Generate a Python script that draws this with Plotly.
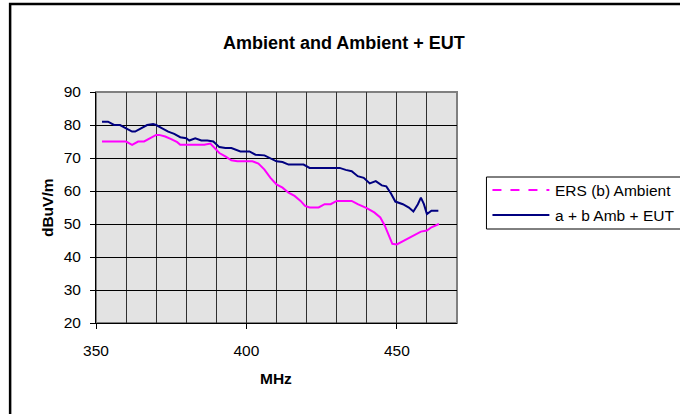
import plotly.graph_objects as go

# ---------------- data ----------------
title_text = "Ambient and Ambient + EUT"
x_title = "MHz"
y_title = "dBuV/m"
series_names = ["ERS (b) Ambient", "a + b Amb + EUT"]

amb_mhz = [352, 354, 356, 358, 360, 362, 364, 366, 368, 370, 371, 373, 375, 377, 378,
           380, 382, 384, 386, 388, 389.5, 391, 393, 395, 397, 400, 402, 404, 406, 408,
           410, 412, 414, 416, 418, 419.5, 421, 424, 426, 428, 430, 432, 435, 437, 440,
           442.5, 444.5, 446, 447.5, 448.5, 450, 451.5, 454, 456, 458, 460, 461.5, 464]
amb_db = [75, 75, 75, 75, 75, 74, 75, 75, 76, 77, 77, 76.5, 75.7, 74.8, 74,
          74, 74, 74, 74, 74.4, 73, 71.5, 70.5, 69.3, 69, 69, 69, 68.3, 66.5, 64,
          62, 61, 59.5, 58.5, 57, 55.5, 55, 55, 56, 56, 57, 57, 57, 56, 54.8,
          53.5, 52, 49.5, 46, 44, 43.8, 44.5, 45.6, 46.7, 47.7, 48, 49, 50]

eut_mhz = [352, 354, 356, 358, 360, 362, 363, 365, 367, 369, 370, 372, 374, 376, 378,
           380, 381, 383, 385, 387, 389, 391, 393, 395, 398, 401, 403, 406, 408, 410,
           412, 414, 416, 419, 421, 423, 426, 429, 431, 433, 435, 437, 439, 441, 443,
           445, 446.5, 448, 449.5, 452, 454, 455.5, 457, 458, 459, 460, 461.5, 463.8]
eut_db = [81, 81, 80, 80, 79, 78, 78, 79, 80, 80.3, 80, 79, 78, 77.3, 76.3,
          76, 75.3, 76, 75.3, 75.3, 75, 73.3, 73, 73, 72, 72, 71, 70.8, 70, 69,
          68.8, 68, 68, 68, 67, 67, 67, 67, 67, 66.4, 66, 64.5, 64, 62.3, 63,
          61.7, 61.4, 59.3, 56.8, 56, 55, 53.8, 56, 58, 56, 53, 54, 54]

x_range = [350, 470]
y_range = [20, 90]

# ---------------- layout geometry (screen pixels; page margin removed) ----------------
W, H = 680, 414
L, R, T, B = 96, 457.5, 92, 323


def px_x(p):
    return (p - L) / (R - L)


def px_y(p):
    return (B - p) / (B - T)


FONT = "Liberation Sans, Arial, sans-serif"
FS = 15.5
PINK = "#FF00FF"
NAVY = "#000080"

fig = go.Figure()
fig.add_trace(go.Scatter(x=amb_mhz, y=amb_db, mode="lines", name=series_names[0],
                         line=dict(color=PINK, width=2), showlegend=False))
fig.add_trace(go.Scatter(x=eut_mhz, y=eut_db, mode="lines", name=series_names[1],
                         line=dict(color=NAVY, width=2), showlegend=False))

shapes = []
# outer chart border (cropped at right / bottom in the reference)
shapes.append(dict(type="rect", xref="paper", yref="paper",
                   x0=px_x(10), x1=px_x(720), y0=px_y(440), y1=px_y(4),
                   line=dict(color="black", width=2.5), layer="above"))
# plot area border (grey)
shapes.append(dict(type="rect", xref="paper", yref="paper",
                   x0=0, x1=1, y0=0, y1=1,
                   line=dict(color="#808080", width=2), layer="below"))
# legend box
lg_left, lg_top, lg_bot = 487, 177, 229
shapes.append(dict(type="rect", xref="paper", yref="paper",
                   x0=px_x(lg_left), x1=px_x(700), y0=px_y(lg_bot), y1=px_y(lg_top),
                   line=dict(color="black", width=1), fillcolor="white", layer="above"))
row_y = [190, 215]
styles = [dict(color=PINK, width=2, dash="dash"), dict(color=NAVY, width=2)]
for ry, st in zip(row_y, styles):
    shapes.append(dict(type="line", xref="paper", yref="paper",
                       x0=px_x(493), x1=px_x(550), y0=px_y(ry), y1=px_y(ry),
                       line=st, layer="above"))

annotations = []
for ry, name in zip(row_y, series_names):
    annotations.append(dict(text=name, xref="paper", yref="paper",
                            x=px_x(554), y=px_y(ry), xanchor="left", yanchor="middle",
                            showarrow=False, font=dict(family=FONT, size=FS, color="black")))
annotations.append(dict(text="<b>%s</b>" % x_title, xref="paper", yref="paper",
                        x=px_x(276), y=px_y(378), xanchor="center", yanchor="middle",
                        showarrow=False, font=dict(family=FONT, size=FS, color="black")))
annotations.append(dict(text="<b>%s</b>" % y_title, xref="paper", yref="paper",
                        x=px_x(47), y=px_y(208), xanchor="center", yanchor="middle",
                        textangle=-90, showarrow=False,
                        font=dict(family=FONT, size=FS, color="black")))
annotations.append(dict(text="<b>%s</b>" % title_text, xref="paper", yref="paper",
                        x=px_x(221), y=px_y(43), xanchor="left", yanchor="middle",
                        showarrow=False, font=dict(family=FONT, size=18, color="black")))

fig.update_layout(
    width=W, height=H,
    margin=dict(l=L, r=W - R, t=T, b=H - B, pad=0),
    paper_bgcolor="white",
    plot_bgcolor="#E3E3E3",
    font=dict(family=FONT, size=FS, color="black"),
    showlegend=False,
    shapes=shapes,
    annotations=annotations,
)
fig.update_xaxes(
    range=x_range, tick0=350, dtick=50, showgrid=True, gridcolor="#303030", gridwidth=1,
    minor=dict(dtick=10, tick0=350, showgrid=True, gridcolor="#303030", gridwidth=1, ticks=""),
    ticks="outside", ticklen=5, tickcolor="black", showline=True, linecolor="black",
    linewidth=1, zeroline=False, ticklabelstandoff=8,
    tickfont=dict(family=FONT, size=FS, color="black"),
)
fig.update_yaxes(
    range=y_range, tick0=20, dtick=10, showgrid=True, gridcolor="black", gridwidth=1,
    ticks="outside", ticklen=5, tickcolor="black", showline=True, linecolor="black",
    linewidth=1, zeroline=False, ticklabelstandoff=6,
    tickfont=dict(family=FONT, size=FS, color="black"),
)

fig.write_html("out.html", config={"displayModeBar": False},
               post_script="document.body.style.margin='0';")
